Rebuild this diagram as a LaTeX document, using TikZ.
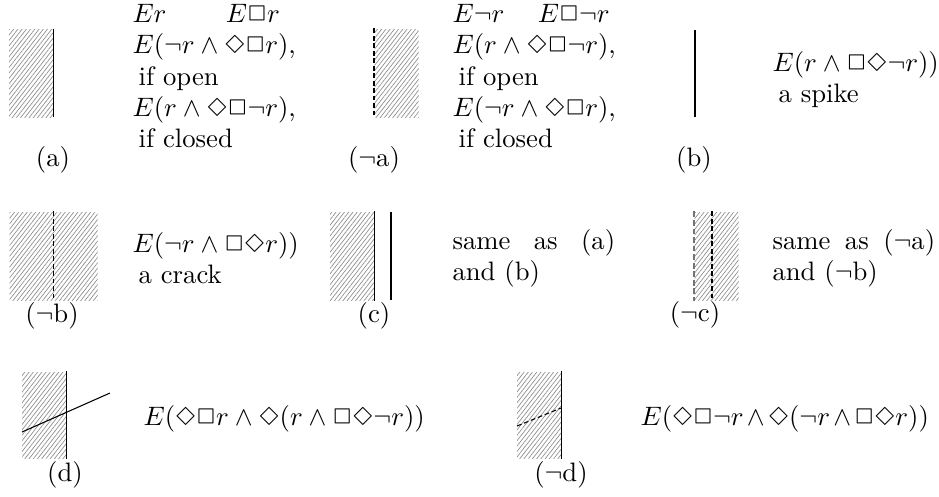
\documentclass[tikz,border=0pt]{standalone}
\usepackage{latexsym}
\usetikzlibrary{patterns.meta}
\newcommand{\ind}{\hspace{2.3pt}}

\begin{document}
\begin{tikzpicture}[x=0.375pt, y=-0.375pt,
    hatchbox/.style={rectangle, inner sep=0pt, minimum width=16.5pt, minimum height=33pt,
                     pattern={Lines[angle=52, distance=1.25pt, line width=0.25pt]}, pattern color=black!45},
    widebox/.style={hatchbox, minimum width=33pt},
    rim/.style={line width=0.4pt},
    crack/.style={line width=0.4pt, dash pattern=on 1.8pt off 1pt},
    lab/.style={inner sep=0pt},
    desc/.style={anchor=north west, align=left, inner sep=0pt,
                 font=\fontsize{10}{11.7}\selectfont},
    sameas/.style={desc, align=justify, text width=61pt},
    formula/.style={anchor=west, inner sep=0pt},
  ]
  \useasboundingbox (0,0) rectangle (939,496);

  \node[hatchbox] (abox) at (31,73) {};
  \draw[rim] (abox.north east) -- (abox.south east);
  \node[lab] (alab) at (53,160) {(a)};
  \node[desc] (atext) at (132,4) {\makebox[35pt][l]{$Er$}$E\Box r$\\
    $E(\neg r\wedge\Diamond\Box r)$,\\ \ind if open\\
    $E(r\wedge\Diamond\Box\neg r)$,\\ \ind if closed};

  \node[hatchbox] (nabox) at (396.5,73) {};
  \draw[crack] (nabox.north west) -- (nabox.south west);
  \node[lab] (nalab) at (374,160) {($\neg$a)};
  \node[desc] (natext) at (452,4) {\makebox[32pt][l]{$E\neg r$}$E\Box\neg r$\\
    $E(r\wedge\Diamond\Box\neg r)$,\\ \ind if open\\
    $E(\neg r\wedge\Diamond\Box r)$,\\ \ind if closed};

  \coordinate (btop) at (695,30);
  \coordinate (bbot) at (695,117);
  \draw[rim] (btop) -- (bbot);
  \node[lab] (blab) at (694,160) {(b)};
  \node[desc] (btext) at (772,51) {$E(r\wedge\Box\Diamond\neg r))$\\ \ind a spike};

  \node[widebox] (nbbox) at (53.5,256) {};
  \draw[crack] (nbbox.north) -- (nbbox.south);
  \node[lab] (nblab) at (52,316) {($\neg$b)};
  \node[desc] (nbtext) at (132,232) {$E(\neg r\wedge\Box\Diamond r))$\\ \ind a crack};

  \node[hatchbox] (cbox) at (352,256) {};
  \draw[rim] (cbox.north east) -- (cbox.south east);
  \coordinate (ctop) at (391,212);
  \coordinate (cbot) at (391,300);
  \draw[rim] (ctop) -- (cbot);
  \node[lab] (clab) at (374,316) {(c)};
  \node[sameas] (ctext) at (452,229) {same as (a) and (b)};

  \node[hatchbox] (ncbox) at (716.5,256) {};
  \draw[crack, black!55, dash pattern=on 2.2pt off 1pt] (ncbox.north west) -- (ncbox.south west);
  \draw[crack] ([xshift=6.75pt]ncbox.north west) -- ([xshift=6.75pt]ncbox.south west);
  \node[lab] (nclab) at (695,315) {($\neg$c)};
  \node[sameas] (nctext) at (772,229) {same as ($\neg$a) and ($\neg$b)};

  \node[hatchbox, minimum height=32.25pt] (dbox) at (44,415) {};
  \draw[rim] (dbox.north east) -- (dbox.south east);
  \coordinate (dfrom) at (22,432);
  \coordinate (dto) at (110,393);
  \draw[rim] (dfrom) -- (dto);
  \node[lab] (dlab) at (65,475) {(d)};
  \node[formula] (dtext) at (143,419) {$E(\Diamond\Box r\wedge\Diamond(r\wedge\Box\Diamond\neg r))$};

  \node[hatchbox, minimum height=32.25pt] (ndbox) at (539,415) {};
  \draw[rim] (ndbox.north east) -- (ndbox.south east);
  \coordinate (ndfrom) at (517,426);
  \coordinate (ndto) at (561,408);
  \draw[crack] (ndfrom) -- (ndto);
  \node[lab] (ndlab) at (561,475) {($\neg$d)};
  \node[formula] (ndtext) at (640,419) {$\medmuskip=2.2mu E(\Diamond\Box\neg r\wedge\Diamond(\neg r\wedge\Box\Diamond r))$};
\end{tikzpicture}
\end{document}
